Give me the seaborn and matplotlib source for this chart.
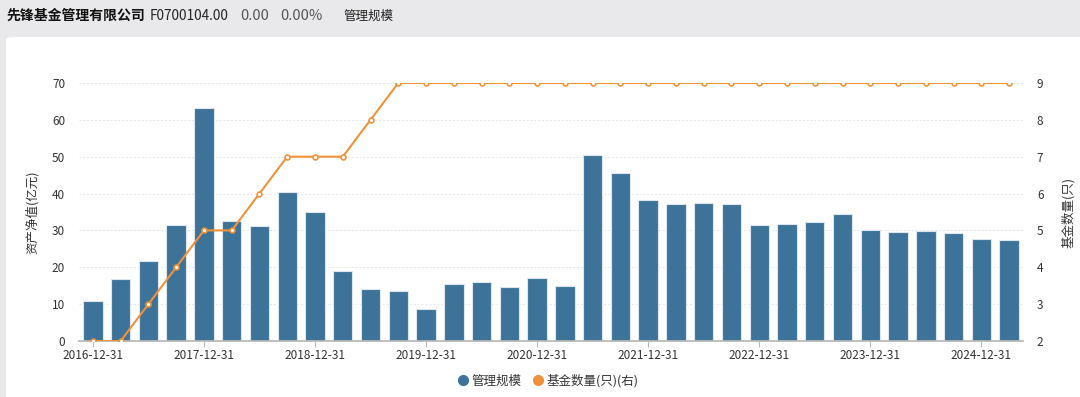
import matplotlib
matplotlib.use("Agg")
import matplotlib.pyplot as plt
import matplotlib.patches as mpatches
from matplotlib.lines import Line2D
import pandas as pd
import seaborn as sns

# quarterly report dates, 2016-12-31 .. 2025-03-31
dates = [f"{y}-{md}" for y in range(2016, 2026) for md in ["03-31", "06-30", "09-30", "12-31"]]
dates = dates[3:3 + 34]

# net assets (100M CNY)
aum = [10.8, 16.9, 21.8, 31.6, 63.2, 32.6, 31.3, 40.4, 34.9, 19.0,
       14.1, 13.6, 8.8, 15.6, 16.1, 14.7, 17.0, 15.0, 50.6, 45.6,
       38.3, 37.1, 37.4, 37.2, 31.6, 31.8, 32.2, 34.5, 30.1, 29.5,
       29.9, 29.4, 27.7, 27.4]

# number of funds
funds = [2, 2, 3, 4, 5, 5, 6, 7, 7, 7, 8, 9, 9, 9, 9, 9, 9, 9, 9, 9,
         9, 9, 9, 9, 9, 9, 9, 9, 9, 9, 9, 9, 9, 9]

year_ends = [d for d in dates if d.endswith("12-31")]

df = pd.DataFrame({"date": dates, "aum": aum, "funds": funds})

sns.set_theme(style="white")
plt.rcParams["font.family"] = ["Noto Sans CJK SC", "DejaVu Sans"]

bar_c = "#3d7399"
line_c = "#f0923a"
txt_c = "#333333"

fig = plt.figure(figsize=(10.8, 3.97), dpi=100, facecolor="#e9e9eb")

# white card behind the chart
card = mpatches.FancyBboxPatch((6 / 1080, -0.05), 1.2, 1 - 37 / 397 + 0.05,
                               boxstyle="round,pad=0,rounding_size=0.006",
                               transform=fig.transFigure, facecolor="white",
                               edgecolor="none", zorder=-5)
fig.patches.append(card)

# header text
fig.text(6 / 1080, 1 - 16 / 397, "先锋基金管理有限公司", fontsize=10, fontweight="bold",
         color="#111111", va="center")
fig.text(150 / 1080, 1 - 16 / 397, "F0700104.00", fontsize=9.8, color="#222222", va="center")
fig.text(240 / 1080, 1 - 16 / 397, "0.00", fontsize=10.5, color="#555555", va="center")
fig.text(280 / 1080, 1 - 16 / 397, "0.00%", fontsize=10.5, color="#555555", va="center")
fig.text(343 / 1080, 1 - 16 / 397, "管理规模", fontsize=9, color="#222222", va="center")

ax = fig.add_axes([79 / 1080, 1 - 341 / 397, 944 / 1080, 258 / 397])
ax.set_facecolor("none")

sns.barplot(data=df, x="date", y="aum", order=dates, color=bar_c, width=0.7,
            edgecolor="#dde6ee", linewidth=0.8, saturation=1, ax=ax, zorder=2)

ax2 = ax.twinx()
sns.pointplot(data=df, x="date", y="funds", order=dates, color=line_c,
              markers="o", markersize=3.5, linewidth=1.5, ax=ax2,
              markerfacecolor="white", markeredgecolor=line_c, markeredgewidth=1.2)

for a in (ax, ax2):
    a.set_xlim(-0.5, len(dates) - 0.5)
    for s in a.spines.values():
        s.set_visible(False)

ax.set_ylim(0, 70)
ax.set_yticks(range(0, 71, 10))
ax2.set_ylim(2, 9)
ax2.set_yticks(range(2, 10))

ax.yaxis.grid(True, color="#e3e6ec", linestyle=(0, (2, 2)), linewidth=0.7, zorder=0)
ax.set_axisbelow(True)
ax.spines["bottom"].set_visible(True)
ax.spines["bottom"].set_color("#b8b8b8")
ax.spines["bottom"].set_zorder(3)

ax.set_xticks([dates.index(d) for d in year_ends])
ax.set_xticklabels(year_ends)
ax.tick_params(axis="x", length=4, width=0.8, color="#b8b8b8", labelsize=8.5,
               labelcolor=txt_c, pad=2, bottom=True)
ax.tick_params(axis="y", length=0, labelsize=8.5, labelcolor=txt_c, pad=10)
ax2.tick_params(axis="y", length=0, labelsize=8.5, labelcolor=txt_c, pad=10)
ax2.tick_params(axis="x", bottom=False, labelbottom=False)

ax.set_xlabel("")
ax.set_ylabel("资产净值(亿元)", fontsize=9, color=txt_c, labelpad=9)
ax2.set_xlabel("")
ax2.set_ylabel("基金数量(只)", fontsize=9, color=txt_c, labelpad=13, rotation=90)

handles = [Line2D([], [], marker="o", linestyle="none", markersize=7, color=bar_c),
           Line2D([], [], marker="o", linestyle="none", markersize=7, color=line_c)]
fig.legend(handles, ["管理规模", "基金数量(只)(右)"], loc="center",
           bbox_to_anchor=(546 / 1080, 1 - 381 / 397), ncol=2, frameon=False,
           fontsize=9, handletextpad=-0.1, handlelength=1.5, columnspacing=0.6,
           labelcolor=txt_c)

fig.savefig("out.png", dpi=100, facecolor=fig.get_facecolor())
